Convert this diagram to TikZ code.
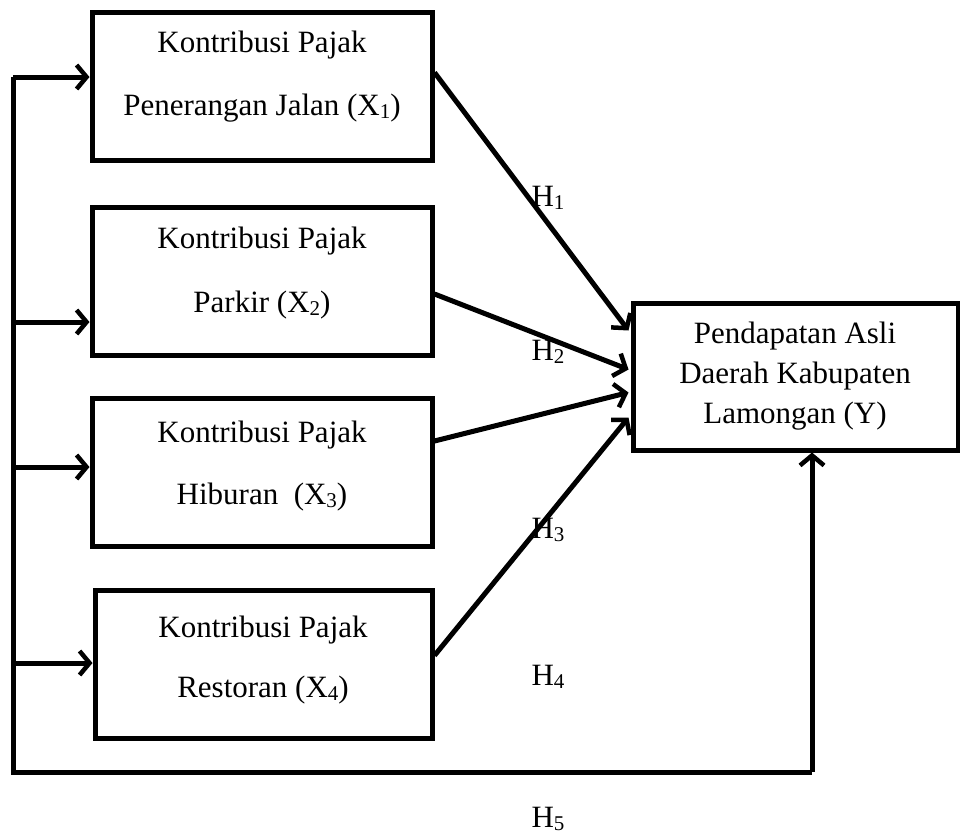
\documentclass[tikz,border=0pt]{standalone}
\usepackage{fontspec}
\setmainfont{Liberation Serif}
\usetikzlibrary{arrows.meta,calc}
\newcommand\sbs[1]{\raisebox{-0.1em}{\fontsize{21}{21}\selectfont #1}}
\begin{document}
\begin{tikzpicture}[x=1pt,y=-1pt,
  box/.style={draw,line width=5pt,minimum width=340pt,minimum height=148pt,inner sep=0pt},
  ybox/.style={draw,line width=5pt,minimum width=325pt,minimum height=147pt,inner sep=0pt},
  txt/.style={font=\fontsize{31}{36}\selectfont,inner sep=0pt},
  conn/.style={line width=5pt,-{Straight Barb[length=10pt,width=24pt,line width=4.5pt]}},
  plain/.style={line width=5pt}]
\useasboundingbox (0,0) rectangle (960,836);
% boxes
\node[box] (X1) at (262,86) {};
\node[box] (X2) at (262,281.5) {};
\node[box] (X3) at (262,472.5) {};
\node[box,minimum width=337pt] (X4) at (263.5,664) {};
\node[ybox] (Y) at (795.5,376.5) {};
% texts
\node[txt] (t1a) at (262,45) {Kontribusi Pajak};
\node[txt] (t1b) at (262,108) {Penerangan Jalan (X\sbs{1})};
\node[txt] (t2a) at (262,241) {Kontribusi Pajak};
\node[txt] (t2b) at (262,305) {Parkir (X\sbs{2})};
\node[txt] (t3a) at (262,435) {Kontribusi Pajak};
\node[txt] (t3b) at (262,497) {Hiburan~ (X\sbs{3})};
\node[txt] (t4a) at (263,630) {Kontribusi Pajak};
\node[txt] (t4b) at (263,690) {Restoran (X\sbs{4})};
\node[txt] (ya) at (795,336) {Pendapatan Asli};
\node[txt] (yb) at (795,376) {Daerah Kabupaten};
\node[txt] (yc) at (795,416) {Lamongan (Y)};
% hypothesis labels
\node[txt] (h1) at (548,198) {H\sbs{1}};
\node[txt] (h2) at (548,352) {H\sbs{2}};
\node[txt] (h3) at (548,530) {H\sbs{3}};
\node[txt] (h4) at (548,677) {H\sbs{4}};
\node[txt] (h5) at (548,819) {H\sbs{5}};
% coordinates
\coordinate (top) at (13,77);
\coordinate (bl) at (13,772);
\coordinate (br) at (812,772);
\coordinate (s2) at (13,322);
\coordinate (s3) at (13,467);
\coordinate (s4) at (13,663);
\coordinate (e1) at ($(X1.north east)+(0,63)$);
\coordinate (e2) at ($(X2.north east)+(0,89)$);
\coordinate (e3) at ($(X3.north east)+(0,45)$);
\coordinate (e4) at ($(X4.north east)+(0,68)$);
\coordinate (y1) at ($(Y.north west)+(-2,30)$);
\coordinate (y2) at ($(Y.north west)+(-2,69)$);
\coordinate (y3) at ($(Y.north west)+(-2,92)$);
\coordinate (y4) at ($(Y.north west)+(-2,117)$);
% connectors
\draw[plain] (top) -- (bl) -- (br);
\draw[conn] (top) -- (top -| X1.west);
\draw[conn] (s2) -- (s2 -| X2.west);
\draw[conn] (s3) -- (s3 -| X3.west);
\draw[conn] (s4) -- (s4 -| X4.west);
\draw[conn] (br) -- (br |- Y.south);
\draw[conn] (e1) -- (y1);
\draw[conn] (e2) -- (y2);
\draw[conn] (e3) -- (y3);
\draw[conn] (e4) -- (y4);
\end{tikzpicture}
\end{document}
